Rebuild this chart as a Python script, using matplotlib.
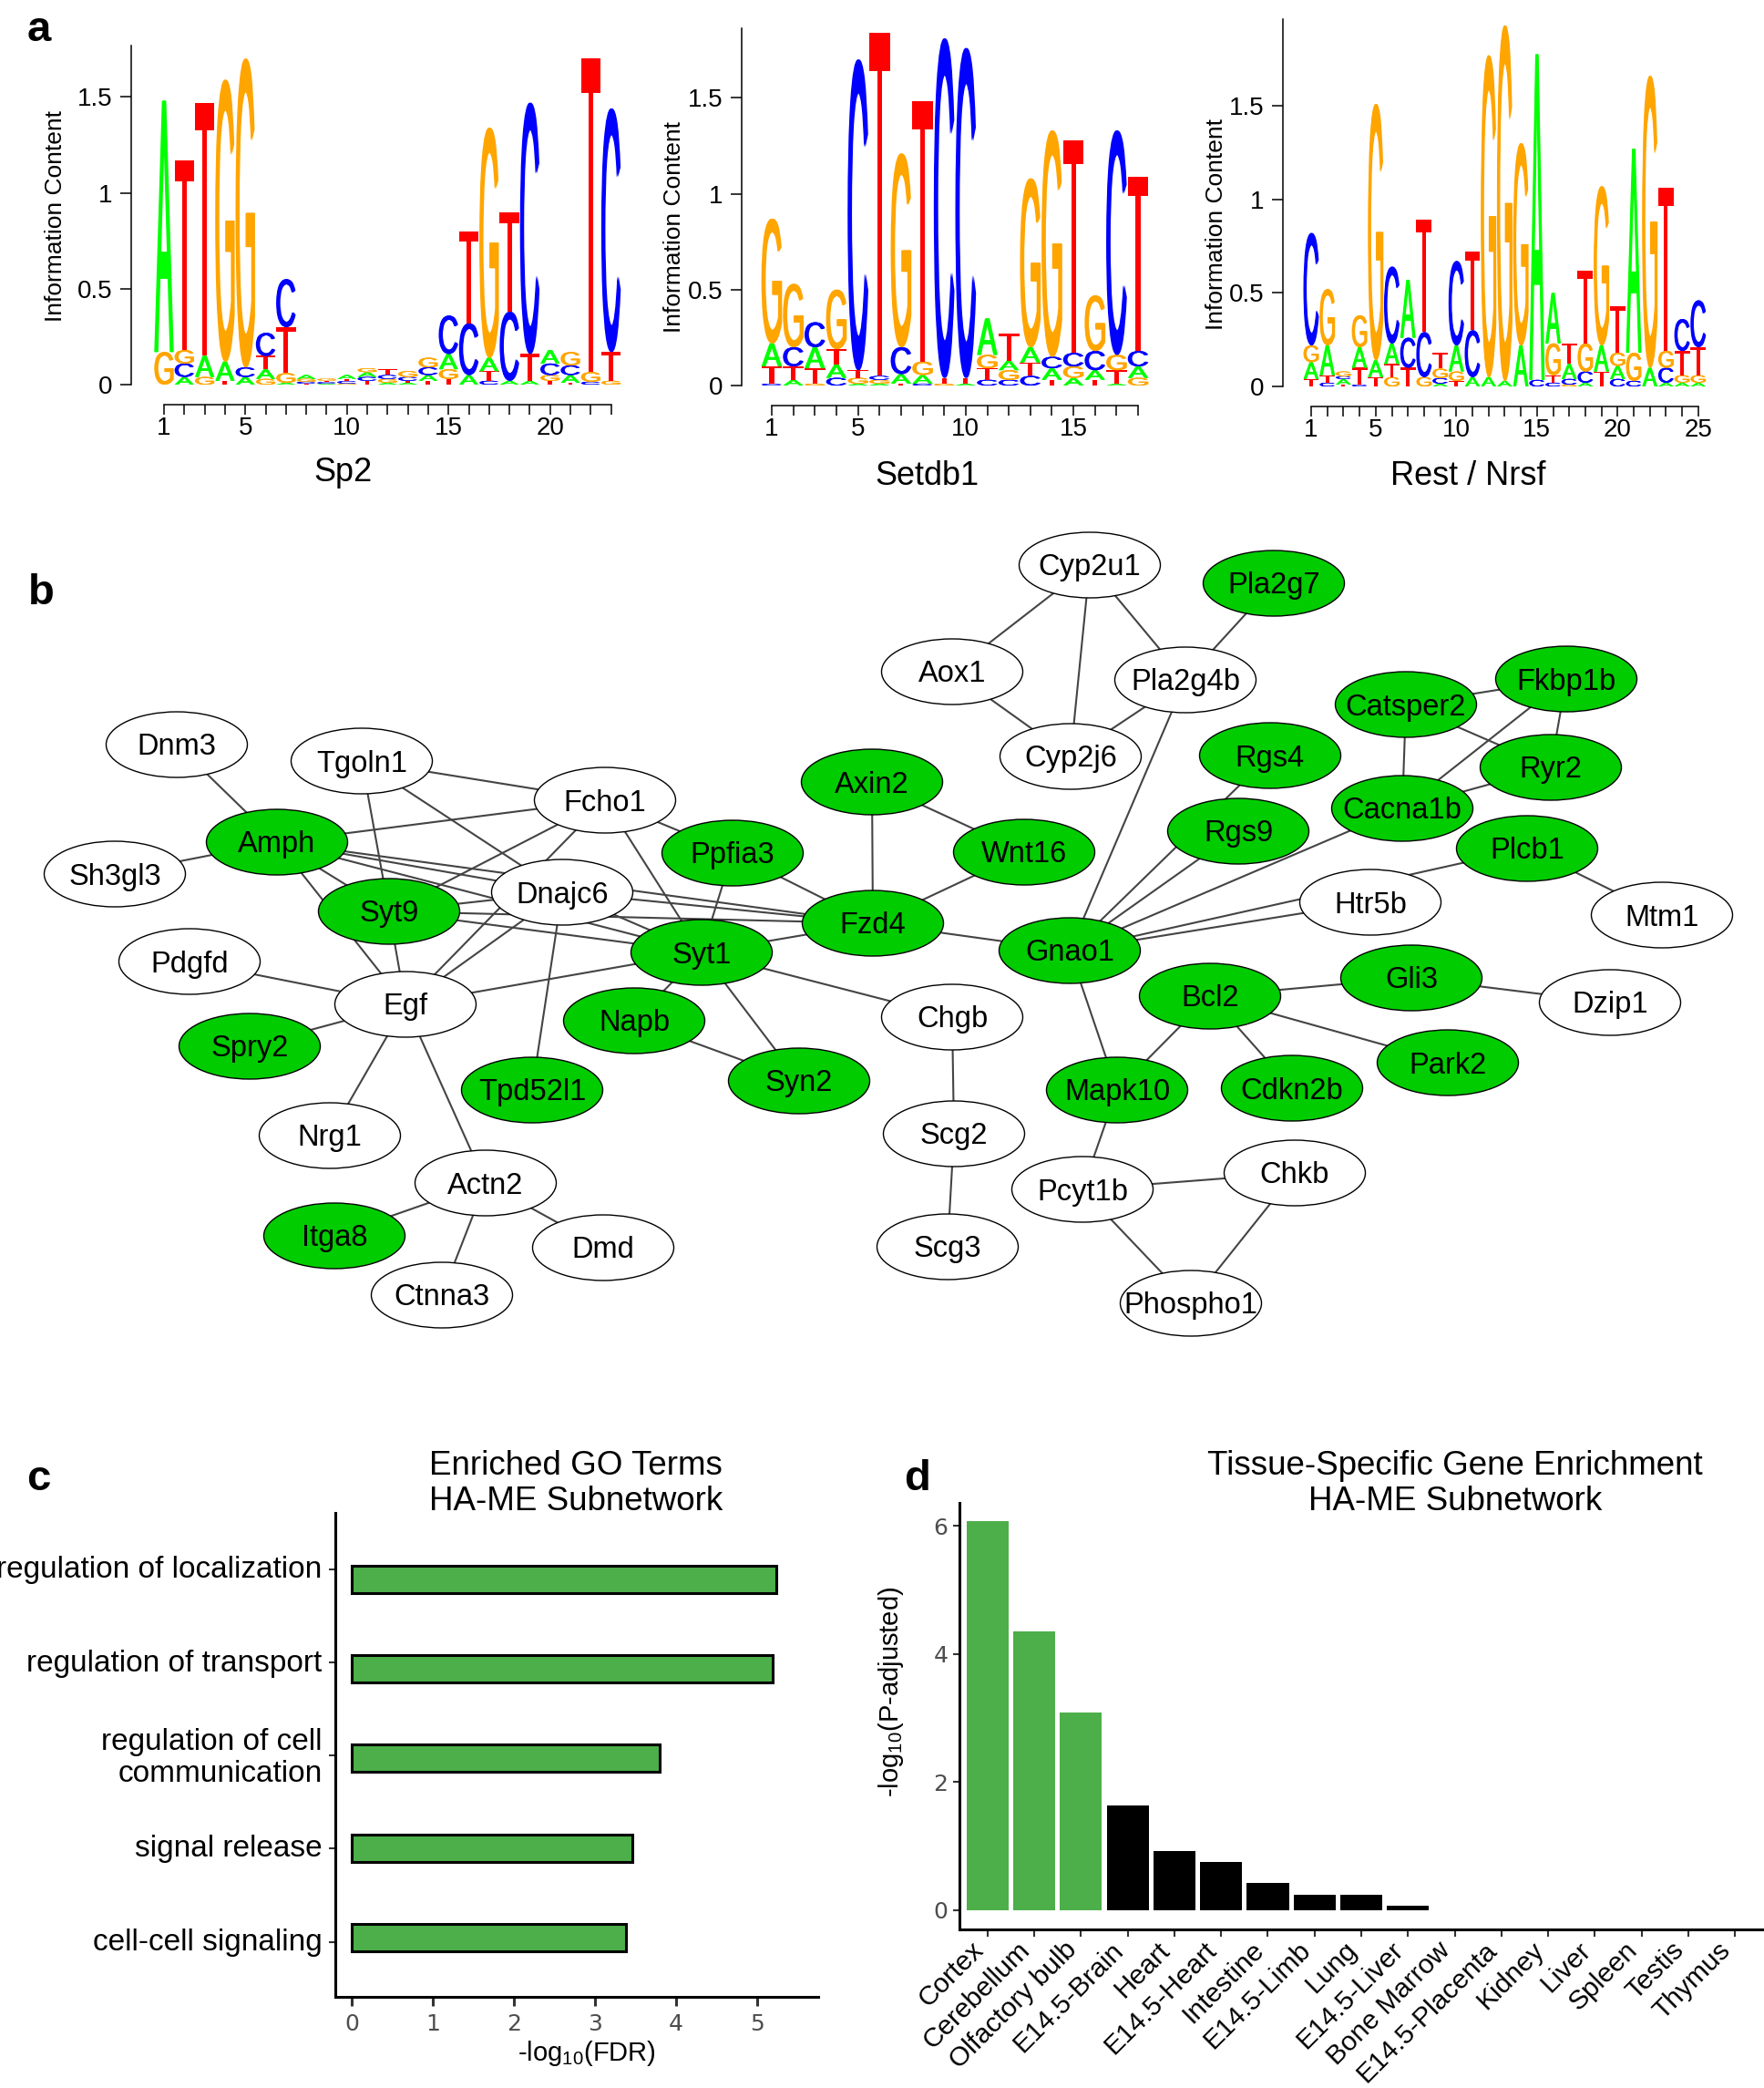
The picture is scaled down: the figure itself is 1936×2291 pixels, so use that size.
import matplotlib
matplotlib.use('Agg')
from matplotlib import pyplot as plt
from matplotlib.font_manager import FontProperties
from matplotlib.patches import Ellipse, PathPatch
from matplotlib.textpath import TextPath
from matplotlib.transforms import Affine2D, ScaledTranslation

plt.rcParams['font.family'] = ['Liberation Sans', 'DejaVu Sans']
plt.rcParams['mathtext.default'] = 'regular'

W, H = 1936, 2291

# panel a: stacks from bottom to top
sp2_letters = ['GA', 'ACGT', 'GAT', 'TAG', 'ACG', 'GATC', 'AGTC', 'TCGA', 'ACTG', 'GCTA',
               'TCAG', 'AGCT', 'ATCG', 'TACG', 'TGAC', 'ACT', 'CTAG', 'ACT', 'ATC',
               'TGCA', 'TACG', 'CGT', 'GTC']
sp2_heights = [[.17, 1.31], [.04, .07, .07, .99], [.04, .11, 1.32], [.02, .10, 1.47],
               [.04, .05, 1.61], [.03, .05, .07, .12], [.01, .05, .24, .25],
               [.005, .01, .015, .02], [.005, .008, .008, .01], [.006, .012, .012, .02],
               [.02, .02, .025, .02], [.01, .02, .02, .03], [.01, .01, .02, .03],
               [.02, .03, .04, .05], [.03, .05, .08, .20], [.05, .27, .48],
               [.02, .05, .07, 1.20], [.02, .36, .52], [.02, .14, 1.31],
               [.02, .03, .06, .07], [.01, .04, .05, .07], [.015, .05, 1.635],
               [.02, .15, 1.27]]

setdb1_letters = ['CTAG', 'ATCG', 'GTAC', 'CATG', 'AGTC', 'AGCT', 'TACG', 'CAGT', 'GTC', 'ATC',
                  'CTGA', 'CGAT', 'CTAG', 'TACG', 'AGCT', 'TACG', 'ATGC', 'GACT']
setdb1_heights = [[.01, .09, .12, .65], [.03, .07, .10, .33], [.01, .08, .11, .13],
                  [.04, .07, .08, .31], [.01, .03, .04, 1.62], [.01, .02, .02, 1.79],
                  [.01, .05, .14, 1.01], [.01, .045, .07, 1.36], [.01, .03, 1.77],
                  [.01, .03, 1.72], [.03, .06, .07, .19], [.03, .05, .05, .14],
                  [.05, .07, .08, .88], [.03, .06, .06, 1.18], [.04, .06, .07, 1.11],
                  [.03, .05, .10, .29], [.01, .07, .08, 1.17], [.04, .06, .08, .91]]

rest_letters = ['TAGC', 'CTAG', 'TACG', 'CTAG', 'TAG', 'GTAC', 'TCA', 'GCT', 'ACGT', 'TGAC',
                'ACT', 'AG', 'AG', 'AG', 'CA', 'CTGA', 'GCAT', 'ACGT', 'TAG', 'CAGT',
                'CGA', 'AG', 'ACGT', 'AGTC', 'AGTC']
rest_heights = [[.04, .09, .09, .60], [.02, .04, .16, .30], [.01, .03, .015, .025],
                [.01, .09, .11, .17], [.05, .09, 1.37], [.05, .07, .11, .41],
                [.10, .16, .31], [.05, .24, .60], [.015, .03, .05, .085],
                [.03, .05, .14, .45], [.05, .25, .42], [.05, 1.72], [.03, 1.90],
                [.22, 1.08], [.035, 1.74], [.02, .04, .17, .27], [.01, .03, .08, .11],
                [.02, .06, .15, .39], [.08, .14, .85], [.04, .07, .07, .25],
                [.03, .15, 1.09], [.10, 1.56], [.02, .08, .09, .87], [.02, .04, .13, .17],
                [.02, .04, .15, .25]]

logo_colors = {'A': '#00ff00', 'C': '#0000ff', 'G': '#ffa500', 'T': '#ff0000'}
logo_yticks = [0, .5, 1, 1.5]
logo_yticklabels = ['0', '0.5', '1', '1.5']

# panel b: gene network, layout as drawn in the figure
node_names = ['Dnm3', 'Tgoln1', 'Fcho1', 'Sh3gl3', 'Amph', 'Axin2', 'Ppfia3', 'Dnajc6', 'Syt9',
              'Fzd4', 'Syt1', 'Pdgfd', 'Egf', 'Spry2', 'Napb', 'Tpd52l1', 'Syn2', 'Nrg1',
              'Actn2', 'Itga8', 'Dmd', 'Ctnna3', 'Cyp2u1', 'Pla2g7', 'Aox1', 'Pla2g4b',
              'Cyp2j6', 'Catsper2', 'Fkbp1b', 'Rgs4', 'Ryr2', 'Cacna1b', 'Rgs9', 'Wnt16',
              'Plcb1', 'Htr5b', 'Mtm1', 'Gnao1', 'Gli3', 'Bcl2', 'Dzip1', 'Chgb', 'Park2',
              'Mapk10', 'Cdkn2b', 'Scg2', 'Pcyt1b', 'Chkb', 'Scg3', 'Phospho1']
node_x = [194, 397, 664, 126, 304, 957, 804, 617, 427, 958, 770, 208, 445, 274, 696, 584, 877, 362,
          533, 367, 662, 485, 1196, 1398, 1045, 1301, 1175, 1543, 1719, 1394, 1702, 1539, 1359,
          1124, 1676, 1504, 1824, 1174, 1549, 1328, 1767, 1045, 1589, 1226, 1418, 1047, 1188,
          1421, 1040, 1307]
node_y = [817, 835, 878, 959, 924, 858, 936, 979, 1000, 1013, 1045, 1055, 1102, 1148, 1120, 1196,
          1186, 1246, 1298, 1356, 1369, 1421, 620, 640, 737, 746, 830, 773, 745, 829, 842, 887,
          912, 935, 931, 990, 1004, 1043, 1073, 1093, 1100, 1116, 1166, 1196, 1194, 1244, 1305,
          1287, 1368, 1430]
green_nodes = ['Amph', 'Axin2', 'Ppfia3', 'Syt9', 'Fzd4', 'Syt1', 'Spry2', 'Napb', 'Tpd52l1', 'Syn2',
               'Itga8', 'Pla2g7', 'Catsper2', 'Fkbp1b', 'Rgs4', 'Ryr2', 'Cacna1b', 'Rgs9', 'Wnt16',
               'Plcb1', 'Gnao1', 'Gli3', 'Bcl2', 'Park2', 'Mapk10', 'Cdkn2b']
edges = [('Dnm3', 'Amph'), ('Sh3gl3', 'Amph'), ('Tgoln1', 'Fcho1'), ('Tgoln1', 'Dnajc6'),
         ('Tgoln1', 'Syt9'), ('Fcho1', 'Amph'), ('Fcho1', 'Syt9'), ('Fcho1', 'Egf'),
         ('Fcho1', 'Ppfia3'), ('Fcho1', 'Syt1'), ('Amph', 'Dnajc6'), ('Amph', 'Fzd4'),
         ('Amph', 'Syt1'), ('Amph', 'Syt9'), ('Amph', 'Egf'), ('Syt9', 'Dnajc6'), ('Syt9', 'Syt1'),
         ('Syt9', 'Fzd4'), ('Syt9', 'Egf'), ('Dnajc6', 'Egf'), ('Dnajc6', 'Fzd4'),
         ('Dnajc6', 'Syt1'), ('Dnajc6', 'Tpd52l1'), ('Syt1', 'Fzd4'), ('Syt1', 'Egf'),
         ('Syt1', 'Ppfia3'), ('Syt1', 'Napb'), ('Syt1', 'Syn2'), ('Syt1', 'Chgb'), ('Napb', 'Syn2'),
         ('Ppfia3', 'Fzd4'), ('Axin2', 'Fzd4'), ('Axin2', 'Wnt16'), ('Wnt16', 'Fzd4'),
         ('Fzd4', 'Gnao1'), ('Pdgfd', 'Egf'), ('Spry2', 'Egf'), ('Egf', 'Nrg1'), ('Egf', 'Actn2'),
         ('Actn2', 'Itga8'), ('Actn2', 'Ctnna3'), ('Actn2', 'Dmd'), ('Cyp2u1', 'Aox1'),
         ('Cyp2u1', 'Cyp2j6'), ('Cyp2u1', 'Pla2g4b'), ('Pla2g7', 'Pla2g4b'), ('Aox1', 'Cyp2j6'),
         ('Pla2g4b', 'Cyp2j6'), ('Pla2g4b', 'Gnao1'), ('Catsper2', 'Fkbp1b'), ('Catsper2', 'Ryr2'),
         ('Catsper2', 'Cacna1b'), ('Fkbp1b', 'Ryr2'), ('Fkbp1b', 'Cacna1b'), ('Ryr2', 'Cacna1b'),
         ('Rgs4', 'Gnao1'), ('Rgs9', 'Gnao1'), ('Cacna1b', 'Gnao1'), ('Htr5b', 'Gnao1'),
         ('Plcb1', 'Gnao1'), ('Plcb1', 'Mtm1'), ('Gnao1', 'Mapk10'), ('Bcl2', 'Gli3'),
         ('Bcl2', 'Mapk10'), ('Bcl2', 'Cdkn2b'), ('Bcl2', 'Park2'), ('Gli3', 'Dzip1'),
         ('Chgb', 'Scg2'), ('Scg2', 'Scg3'), ('Mapk10', 'Pcyt1b'), ('Pcyt1b', 'Chkb'),
         ('Pcyt1b', 'Phospho1'), ('Chkb', 'Phospho1')]

# panel c
go_terms = ['regulation of localization', 'regulation of transport',
            'regulation of cell\ncommunication', 'signal release', 'cell-cell signaling']
go_values = [5.23, 5.19, 3.80, 3.46, 3.38]

# panel d
tissues = ['Cortex', 'Cerebellum', 'Olfactory bulb', 'E14.5-Brain', 'Heart', 'E14.5-Heart',
           'Intestine', 'E14.5-Limb', 'Lung', 'E14.5-Liver', 'Bone Marrow', 'E14.5-Placenta',
           'Kidney', 'Liver', 'Spleen', 'Testis', 'Thymus']
tissue_values = [6.07, 4.35, 3.08, 1.63, .93, .755, .43, .245, .245, .066, 0, 0, 0, 0, 0, 0, 0]
tissue_colors = ['#4daf4a'] * 3 + ['black'] * 14

GREEN = '#4daf4a'
NODE_GREEN = '#00cc00'
GREY = '#4d4d4d'

logo_font = FontProperties(family='Liberation Sans')


def px_axes(fig, x0, y0, x1, y1):
    # axes box from pixel corners, y counted from the top
    return fig.add_axes([x0 / W, 1 - y1 / H, (x1 - x0) / W, (y1 - y0) / H])


def px_text(fig, x, y, s, **kw):
    fig.text(x / W, 1 - y / H, s, **kw)


def draw_letter(ax, letter, pos, base, height, width=.96):
    tp = TextPath((0, 0), letter, size=1, prop=logo_font)
    box = tp.get_extents()
    # drawn three times side by side, thickens the stems but not the bars
    for shift in [-.035, 0, .035]:
        w = width - .07
        tr = (Affine2D().translate(-box.x0, -box.y0)
              .scale(w / box.width, height / box.height)
              .translate(pos - w / 2 + shift, base))
        ax.add_patch(PathPatch(tp.transformed(tr), fc=logo_colors[letter], lw=0, clip_on=False))


def draw_logo(fig, letters, heights, name, spine_x, top_y, zero_y, unit, first_x, step, ylab_x, ylab_y, name_x, name_y):
    n = len(letters)
    right_x = first_x + (n - .4) * step
    ax = px_axes(fig, spine_x, top_y, right_x, zero_y)
    ax.set_xlim(1 - (first_x - spine_x) / step, 1 + (right_x - first_x) / step)
    ax.set_ylim(0, (zero_y - top_y) / unit)
    for i in range(n):
        base = 0
        for letter, h in zip(letters[i], heights[i]):
            draw_letter(ax, letter, i + 1, base, h)
            base += h
    for side in ['top', 'right']:
        ax.spines[side].set_visible(False)
    ax.spines['left'].set_linewidth(1.1)
    ax.spines['bottom'].set_linewidth(1.1)
    ax.spines['bottom'].set_position(('outward', 16))
    ax.spines['bottom'].set_bounds(1, n)
    ticks = list(range(1, n + 1))
    ax.set_xticks(ticks)
    ax.set_xticklabels([str(t) if t == 1 or t % 5 == 0 else '' for t in ticks], fontsize=20)
    ax.set_yticks(logo_yticks)
    ax.set_yticklabels(logo_yticklabels, fontsize=20)
    ax.tick_params(axis='x', length=8, width=1.1, pad=1.5)
    ax.tick_params(axis='y', length=9, width=1.1, pad=6)
    px_text(fig, ylab_x, ylab_y, 'Information Content', rotation=90, fontsize=19, ha='center', va='center')
    px_text(fig, name_x, name_y, name, fontsize=26, ha='center', va='center')


def draw_network(fig):
    ax = fig.add_axes([0, 0, 1, 1])
    ax.set_xlim(0, W)
    ax.set_ylim(H, 0)
    ax.axis('off')
    ax.patch.set_alpha(0)
    where = {name: (x, y) for name, x, y in zip(node_names, node_x, node_y)}
    for a, b in edges:
        ax.plot([where[a][0], where[b][0]], [where[a][1], where[b][1]], color='#444444', lw=1.5, zorder=1)
    for name, x, y in zip(node_names, node_x, node_y):
        fc = NODE_GREEN if name in green_nodes else 'white'
        ax.add_patch(Ellipse((x, y), 155, 72, fc=fc, ec='black', lw=1.0, zorder=2))
        ax.text(x, y + 3, name, fontsize=23.5, ha='center', va='center', zorder=3)


def draw_go(fig):
    ax = px_axes(fig, 367.5, 1660, 898, 2191)
    ax.barh(range(len(go_values)), go_values, height=.305, color=GREEN, edgecolor='black', linewidth=2.2)
    ax.set_xlim(-.21, 5.75)
    ax.set_ylim(4.66, -.737)
    ax.set_yticks([-.107, .93, 1.966, 3.0, 4.05])
    ax.set_yticklabels(go_terms, fontsize=24, linespacing=1.15)
    ax.set_xticks(range(6))
    ax.tick_params(axis='x', length=7, width=2.2, color='#333333', labelcolor=GREY, labelsize=18, pad=6)
    ax.tick_params(axis='y', length=5, width=1.5, color='#333333', pad=5)
    for label in ax.get_xticklabels():
        label.set_family('DejaVu Sans')
    # the long labels sit slightly above their ticks
    nudge = ScaledTranslation(0, 2.5 / 100, fig.dpi_scale_trans)
    for label in ax.get_yticklabels():
        label.set_transform(label.get_transform() + nudge)
    for side in ['top', 'right']:
        ax.spines[side].set_visible(False)
    for side in ['left', 'bottom']:
        ax.spines[side].set_linewidth(2.2)
    px_text(fig, 644, 2253, r'-log$_{10}$(FDR)', fontsize=21, ha='center', va='center')
    px_text(fig, 632, 1628, 'Enriched GO Terms\nHA-ME Subnetwork', fontsize=26.5, ha='center', va='center', linespacing=1.15)


def draw_tissue(fig):
    ax = px_axes(fig, 1053, 1649, 1934, 2117)
    ax.bar(range(len(tissues)), tissue_values, width=.9, color=tissue_colors)
    ax.set_xlim(-.6, 16.58)
    ax.set_ylim(-.3, 6.36)
    ax.set_yticks([0, 2, 4, 6])
    ax.set_xticks(range(len(tissues)))
    ax.set_xticklabels(tissues, rotation=45, ha='right', va='center', rotation_mode='anchor', fontsize=21.5)
    ax.tick_params(axis='x', length=6, width=1.5, color='#333333', pad=5)
    ax.tick_params(axis='y', length=5, width=1.5, color='#333333', labelcolor=GREY, labelsize=18, pad=4)
    for label in ax.get_yticklabels():
        label.set_family('DejaVu Sans')
    # labels end a little left of their ticks
    nudge = ScaledTranslation(-9 / 100, -3 / 100, fig.dpi_scale_trans)
    for label in ax.get_xticklabels():
        label.set_transform(label.get_transform() + nudge)
    for side in ['top', 'right']:
        ax.spines[side].set_visible(False)
    for side in ['left', 'bottom']:
        ax.spines[side].set_linewidth(2.2)
    px_text(fig, 978, 1856, r'-log$_{10}$(P-adjusted)', rotation=90, fontsize=21, ha='center', va='center')
    px_text(fig, 1597, 1628, 'Tissue-Specific Gene Enrichment\nHA-ME Subnetwork', fontsize=26.5, ha='center', va='center', linespacing=1.15)


def main():
    fig = plt.figure(figsize=(W / 100, H / 100), dpi=100)
    draw_network(fig)
    draw_logo(fig, sp2_letters, sp2_heights, 'Sp2', 144, 50, 422, 210.4, 180, 22.3, 61, 237, 377, 519)
    draw_logo(fig, setdb1_letters, setdb1_heights, 'Setdb1', 814, 31, 423, 210.4, 847, 23.65, 740, 249, 1017, 523)
    draw_logo(fig, rest_letters, rest_heights, 'Rest / Nrsf', 1408, 21, 424, 205.3, 1439, 17.7, 1335, 246, 1611, 522)
    draw_go(fig)
    draw_tissue(fig)
    for label, x, y in [('a', 30, 45), ('b', 31, 663), ('c', 29, 1635), ('d', 992, 1635)]:
        px_text(fig, x, y, label, fontsize=34, fontweight='bold', ha='left', va='baseline')
    fig.savefig('out.png', dpi=100)


if __name__ == '__main__':
    main()
